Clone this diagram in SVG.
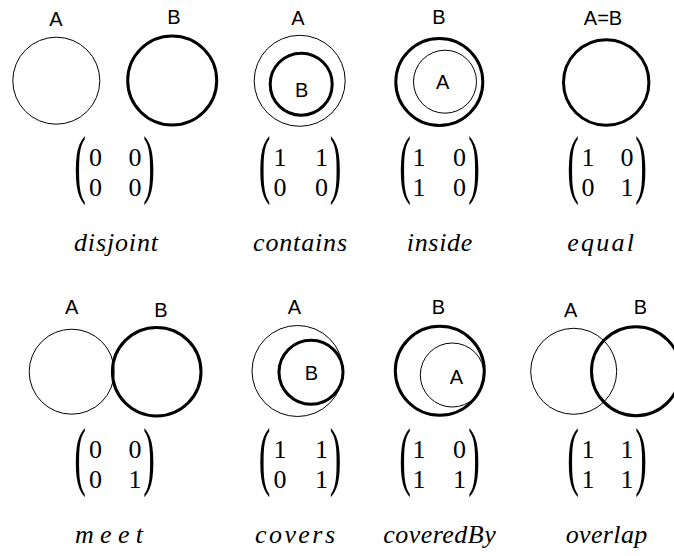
<svg xmlns="http://www.w3.org/2000/svg" width="674" height="556" viewBox="0 0 674 556">
<style>
.thin{fill:none;stroke:#000;stroke-width:1}
.thick{fill:none;stroke:#000;stroke-width:3}
.lbl{font-family:"Liberation Sans",Arial,sans-serif;font-size:20px;text-anchor:middle;fill:#000}
.num{font-family:"Liberation Serif","Times New Roman",serif;font-size:26px;text-anchor:middle;fill:#000}
.par{font-family:"Liberation Serif","Times New Roman",serif;font-size:28px;text-anchor:middle;fill:#000}
.name{font-family:"Liberation Serif","Times New Roman",serif;font-style:italic;font-size:26px;fill:#000}
</style>
<rect width="674" height="556" fill="#fff"/>

<g id="disjoint">
<circle class="thin" cx="56.3" cy="80.7" r="43.5"/>
<circle class="thick" cx="172.2" cy="80.5" r="44.5"/>
<text class="lbl" x="56" y="26">A</text>
<text class="lbl" x="174" y="24">B</text>
<text class="par" transform="translate(80,188.7) scale(1.25,2.7)">(</text>
<text class="par" transform="translate(149,188.7) scale(1.25,2.7)">)</text>
<text class="num"><tspan x="95.5" y="166">0</tspan><tspan x="135" y="166">0</tspan><tspan x="95.5" y="195.5">0</tspan><tspan x="135" y="195.5">0</tspan></text>
<text class="name" x="74" y="251" textLength="84" lengthAdjust="spacing">disjoint</text>
</g>

<g id="contains">
<circle class="thin" cx="299.7" cy="80.8" r="45.5"/>
<circle class="thick" cx="301.2" cy="84.2" r="31"/>
<text class="lbl" x="298" y="25">A</text>
<text class="lbl" x="301.7" y="96.5">B</text>
<text class="par" transform="translate(264.5,188.7) scale(1.25,2.7)">(</text>
<text class="par" transform="translate(335.5,188.7) scale(1.25,2.7)">)</text>
<text class="num"><tspan x="280" y="166">1</tspan><tspan x="321.5" y="166">1</tspan><tspan x="280" y="195.5">0</tspan><tspan x="321.5" y="195.5">0</tspan></text>
<text class="name" x="253" y="251" textLength="94" lengthAdjust="spacing">contains</text>
</g>

<g id="inside">
<circle class="thick" cx="439.3" cy="82" r="43.5"/>
<circle class="thin" cx="445" cy="81.7" r="31.5"/>
<text class="lbl" x="439" y="24">B</text>
<text class="lbl" x="442.7" y="89">A</text>
<text class="par" transform="translate(405,188.7) scale(1.25,2.7)">(</text>
<text class="par" transform="translate(474,188.7) scale(1.25,2.7)">)</text>
<text class="num"><tspan x="419" y="166">1</tspan><tspan x="459.5" y="166">0</tspan><tspan x="419" y="195.5">1</tspan><tspan x="459.5" y="195.5">0</tspan></text>
<text class="name" x="406.7" y="251" textLength="65.6" lengthAdjust="spacing">inside</text>
</g>

<g id="equal">
<circle class="thick" cx="606.2" cy="82.5" r="42.7"/>
<text class="lbl" x="603" y="25">A=B</text>
<text class="par" transform="translate(573,188.7) scale(1.25,2.7)">(</text>
<text class="par" transform="translate(641,188.7) scale(1.25,2.7)">)</text>
<text class="num"><tspan x="588" y="166">1</tspan><tspan x="627" y="166">0</tspan><tspan x="588" y="195.5">0</tspan><tspan x="627" y="195.5">1</tspan></text>
<text class="name" x="567.3" y="251" textLength="66.7" lengthAdjust="spacing">equal</text>
</g>

<g id="meet">
<circle class="thin" cx="71.7" cy="371.7" r="42.5"/>
<circle class="thick" cx="156.7" cy="371.7" r="44.3"/>
<text class="lbl" x="71.7" y="314">A</text>
<text class="lbl" x="161" y="316.5">B</text>
<text class="par" transform="translate(80,480.7) scale(1.25,2.7)">(</text>
<text class="par" transform="translate(149,480.7) scale(1.25,2.7)">)</text>
<text class="num"><tspan x="95.5" y="458">0</tspan><tspan x="135" y="458">0</tspan><tspan x="95.5" y="487.5">0</tspan><tspan x="135" y="487.5">1</tspan></text>
<text class="name" x="75" y="543" textLength="68" lengthAdjust="spacing">meet</text>
</g>

<g id="covers">
<circle class="thin" cx="297.5" cy="371" r="45.5"/>
<circle class="thick" cx="311" cy="372.2" r="32"/>
<text class="lbl" x="294.3" y="314">A</text>
<text class="lbl" x="311.3" y="380">B</text>
<text class="par" transform="translate(264.5,480.7) scale(1.25,2.7)">(</text>
<text class="par" transform="translate(335.5,480.7) scale(1.25,2.7)">)</text>
<text class="num"><tspan x="280" y="458">1</tspan><tspan x="321.5" y="458">1</tspan><tspan x="280" y="487.5">0</tspan><tspan x="321.5" y="487.5">1</tspan></text>
<text class="name" x="255" y="543" textLength="80" lengthAdjust="spacing">covers</text>
</g>

<g id="coveredBy">
<circle class="thick" cx="439.8" cy="370.8" r="44.5"/>
<circle class="thin" cx="452.3" cy="375" r="32"/>
<text class="lbl" x="438.3" y="314">B</text>
<text class="lbl" x="456.3" y="384">A</text>
<text class="par" transform="translate(405,480.7) scale(1.25,2.7)">(</text>
<text class="par" transform="translate(474,480.7) scale(1.25,2.7)">)</text>
<text class="num"><tspan x="419" y="458">1</tspan><tspan x="459.5" y="458">0</tspan><tspan x="419" y="487.5">1</tspan><tspan x="459.5" y="487.5">1</tspan></text>
<text class="name" x="383.3" y="543" textLength="112.4" lengthAdjust="spacing">coveredBy</text>
</g>

<g id="overlap">
<circle class="thin" cx="573.7" cy="371.3" r="43"/>
<circle class="thick" cx="636" cy="371.2" r="44.5"/>
<text class="lbl" x="570.7" y="317">A</text>
<text class="lbl" x="640.3" y="314">B</text>
<text class="par" transform="translate(573,480.7) scale(1.25,2.7)">(</text>
<text class="par" transform="translate(641,480.7) scale(1.25,2.7)">)</text>
<text class="num"><tspan x="588" y="458">1</tspan><tspan x="627" y="458">1</tspan><tspan x="588" y="487.5">1</tspan><tspan x="627" y="487.5">1</tspan></text>
<text class="name" x="565.7" y="543" textLength="81.6" lengthAdjust="spacing">overlap</text>
</g>
</svg>
